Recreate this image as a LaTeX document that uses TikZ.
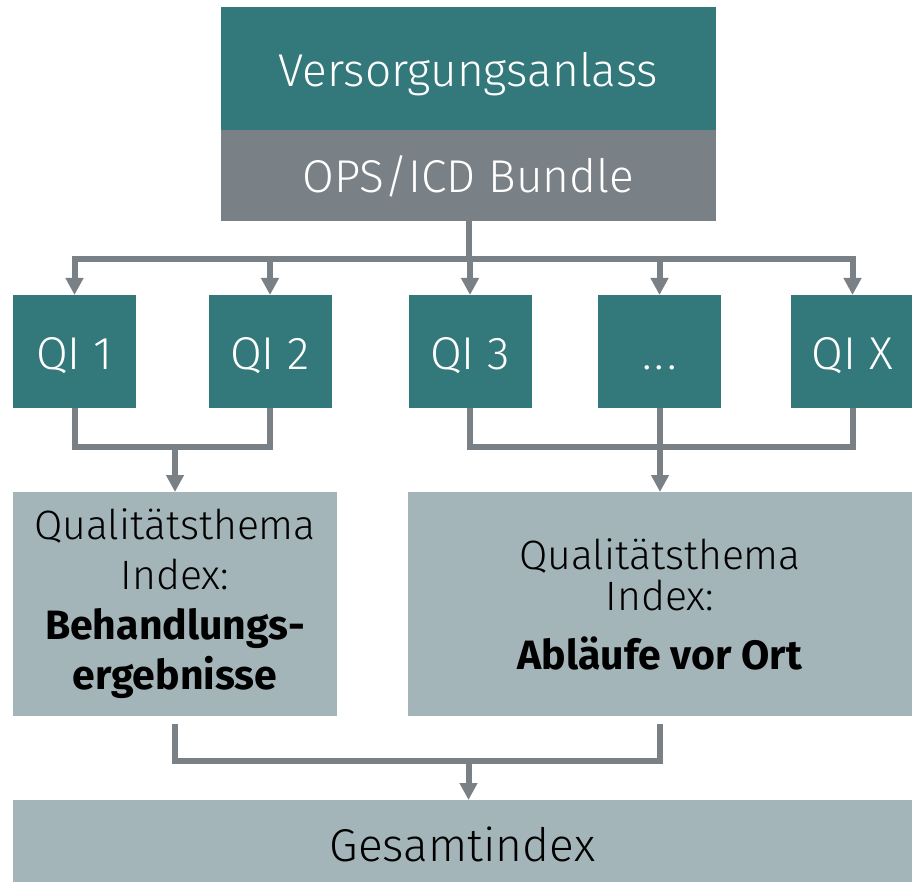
\documentclass[tikz,border=0pt]{standalone}
\usepackage{fontspec}
\setmainfont{Fira Sans}[UprightFont=* Light, BoldFont=* Bold]
\usetikzlibrary{arrows.meta,calc}
\definecolor{teal1}{HTML}{33787A}
\definecolor{gray1}{HTML}{7A8186}
\definecolor{light1}{HTML}{A3B5B9}
\definecolor{conn}{HTML}{798086}
\tikzset{
  box/.style={rectangle, inner sep=0pt, outer sep=0pt, align=center},
  tealbox/.style={box, fill=teal1, text=white, font=\fontsize{46}{52}\selectfont},
  graybox/.style={box, fill=gray1, text=white, font=\fontsize{46}{52}\selectfont},
  lightbox/.style={box, fill=light1, text=black, font=\fontsize{41}{50}\selectfont},
  qibox/.style={tealbox, minimum width=123pt, minimum height=113pt, text height=35pt, text depth=0pt},
  conline/.style={draw=conn, line width=6pt, line join=miter},
  arr/.style={conline, -{Triangle[length=17pt,width=17pt]}},
}
\begin{document}
\begin{tikzpicture}[x=1pt,y=-1pt]
\useasboundingbox (0,0) rectangle (912,882);
\node[tealbox, minimum width=495pt, minimum height=123pt, text height=37pt, text depth=0pt] (top) at (468.5,68.5) {Versorgungsanlass};
\node[graybox, minimum width=495pt, minimum height=91pt, text height=35pt, text depth=0pt] (ops) at (468.5,175.5) {OPS/ICD Bundle};
\node[qibox] (qi1) at (74.5,351.5) {QI 1};
\node[qibox] (qi2) at (270,351.5) {QI 2};
\node[qibox] (qi3) at (470,351.5) {QI 3};
\node[qibox] (qid) at (659.5,351.5) {.\kern3pt.\kern3pt.};
\node[qibox] (qix) at (852.5,351.5) {QI X};
\node[lightbox, minimum width=324pt, minimum height=224pt] (left) at (175,604) {Qualitätsthema\\Index:\\\textbf{Behandlungs-}\\\textbf{ergebnisse}};
\node[lightbox, minimum width=504pt, minimum height=224pt] (right) at (660,604) {Qualitätsthema\\[-9pt]Index:\\[9pt]\textbf{Abläufe vor Ort}};
\node[lightbox, font=\fontsize{46}{52}\selectfont, minimum width=899pt, minimum height=82pt, text height=40pt, text depth=0pt] (ges) at (462.5,841) {Gesamtindex};
\coordinate (bus1) at (0,259);
\coordinate (bus2) at (0,447);
\coordinate (bus3) at (0,761);
\coordinate (ls) at ($(left.south)+(0,8)$);
\coordinate (rs) at ($(right.south)+(0,8)$);
% top distribution
\draw[conline] (ops.south) -- (ops.south |- bus1);
\draw[conline] ($(qi1.north |- bus1)+(-3,0)$) -- ($(qix.north |- bus1)+(3,0)$);
\foreach \n in {qi1,qi2,qi3,qid,qix}{
  \draw[arr] (\n.north |- bus1) -- (\n.north);
}
% left merge
\draw[conline] (qi1.south) -- (qi1.south |- bus2) -- (qi2.south |- bus2) -- (qi2.south);
\draw[arr] (left.north |- bus2) -- (left.north);
% right merge
\draw[conline] (qi3.south) -- (qi3.south |- bus2) -- (qix.south |- bus2) -- (qix.south);
\draw[conline] (qid.south) -- (qid.south |- bus2);
\draw[arr] (right.north |- bus2) -- (right.north);
% bottom merge
\draw[conline] (ls) -- (ls |- bus3) -- (rs |- bus3) -- (rs);
\draw[arr] (ops.south |- bus3) -- (ops.south |- ges.north);
\end{tikzpicture}
\end{document}
